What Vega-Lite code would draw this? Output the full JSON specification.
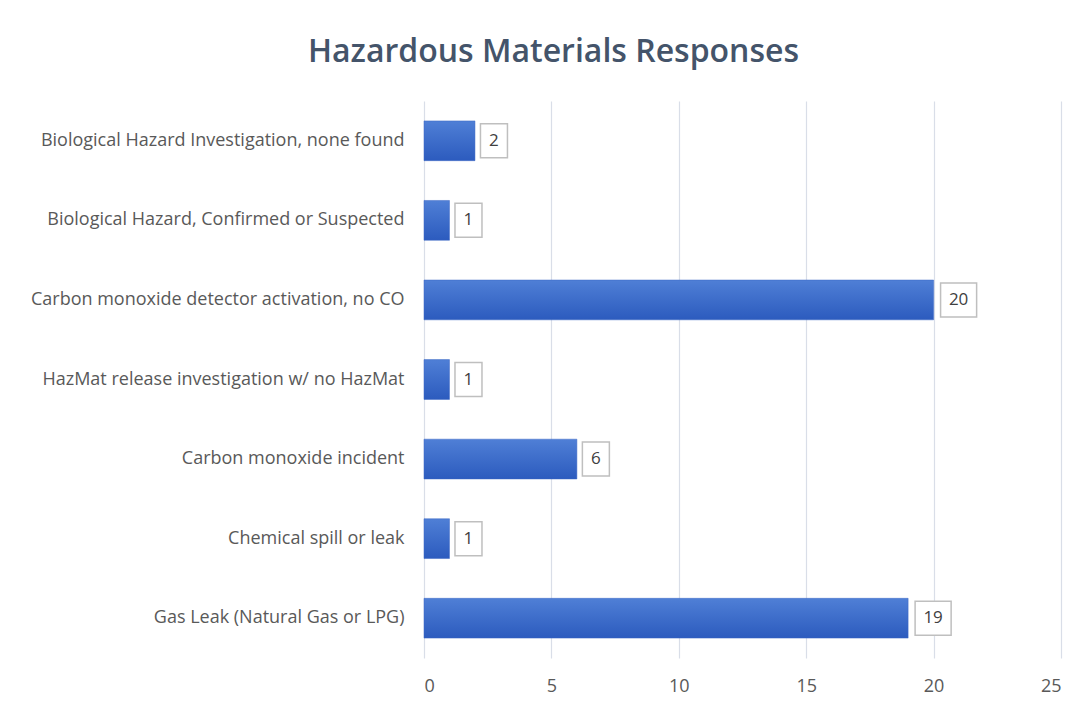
{
  "$schema": "https://vega.github.io/schema/vega-lite/v6.json",
  "autosize": {"type": "none"},
  "padding": {"left": 424, "top": 101, "right": 24, "bottom": 48},
  "width": 637,
  "height": 557,
  "background": "white",
  "title": {
    "text": "Hazardous Materials Responses",
    "font": "Open Sans",
    "fontSize": 32,
    "fontWeight": 600,
    "color": "#44546A",
    "anchor": "middle",
    "baseline": "alphabetic",
    "offset": 7,
    "dx": -189
  },
  "data": {
    "values": [
      {"type": "Biological Hazard Investigation, none found", "count": 2},
      {"type": "Biological Hazard, Confirmed or Suspected", "count": 1},
      {"type": "Carbon monoxide detector activation, no CO", "count": 20},
      {"type": "HazMat release investigation w/ no HazMat", "count": 1},
      {"type": "Carbon monoxide incident", "count": 6},
      {"type": "Chemical spill or leak", "count": 1},
      {"type": "Gas Leak (Natural Gas or LPG)", "count": 19}
    ]
  },
  "encoding": {
    "y": {
      "field": "type",
      "type": "nominal",
      "sort": null,
      "title": null,
      "scale": {"paddingInner": 0.5, "paddingOuter": 0.25},
      "axis": {
        "domain": false,
        "ticks": false,
        "labelPadding": 20,
        "labelFont": "Open Sans",
        "labelFontSize": 18,
        "labelColor": "#595959",
        "labelLimit": 500
      }
    },
    "x": {
      "field": "count",
      "type": "quantitative",
      "title": null,
      "scale": {"domain": [0, 25], "nice": false},
      "axis": {
        "values": [0, 5, 10, 15, 20, 25],
        "domain": false,
        "ticks": false,
        "grid": true,
        "gridColor": "#D9DEE8",
        "gridWidth": 1.2,
        "labelPadding": 19,
        "labelFont": "Open Sans",
        "labelFontSize": 18,
        "labelColor": "#595959"
      }
    }
  },
  "layer": [
    {
      "mark": {
        "type": "bar",
        "color": {
          "x1": 0, "y1": 0, "x2": 0, "y2": 1,
          "gradient": "linear",
          "stops": [
            {"offset": 0, "color": "#4F7FD6"},
            {"offset": 1, "color": "#2C5BBE"}
          ]
        },
        "stroke": "#3A67C4",
        "strokeWidth": 0.5
      }
    },
    {
      "transform": [{"filter": "datum.count < 10"}],
      "mark": {
        "type": "point",
        "shape": "M-0.794,-1H0.794V1H-0.794Z",
        "size": 1156,
        "filled": true,
        "fill": "white",
        "stroke": "#BFBFBF",
        "strokeWidth": 1.5,
        "opacity": 1,
        "xOffset": 19
      }
    },
    {
      "transform": [{"filter": "datum.count >= 10"}],
      "mark": {
        "type": "point",
        "shape": "M-1.06,-1H1.06V1H-1.06Z",
        "size": 1156,
        "filled": true,
        "fill": "white",
        "stroke": "#BFBFBF",
        "strokeWidth": 1.5,
        "opacity": 1,
        "xOffset": 25
      }
    },
    {
      "mark": {
        "type": "text",
        "align": "center",
        "baseline": "middle",
        "font": "Open Sans",
        "fontSize": 17,
        "color": "#404040",
        "xOffset": 19
      },
      "transform": [{"filter": "datum.count < 10"}],
      "encoding": {"text": {"field": "count", "type": "quantitative"}}
    },
    {
      "mark": {
        "type": "text",
        "align": "center",
        "baseline": "middle",
        "font": "Open Sans",
        "fontSize": 17,
        "color": "#404040",
        "xOffset": 25
      },
      "transform": [{"filter": "datum.count >= 10"}],
      "encoding": {"text": {"field": "count", "type": "quantitative"}}
    }
  ],
  "config": {"view": {"stroke": null}}
}
